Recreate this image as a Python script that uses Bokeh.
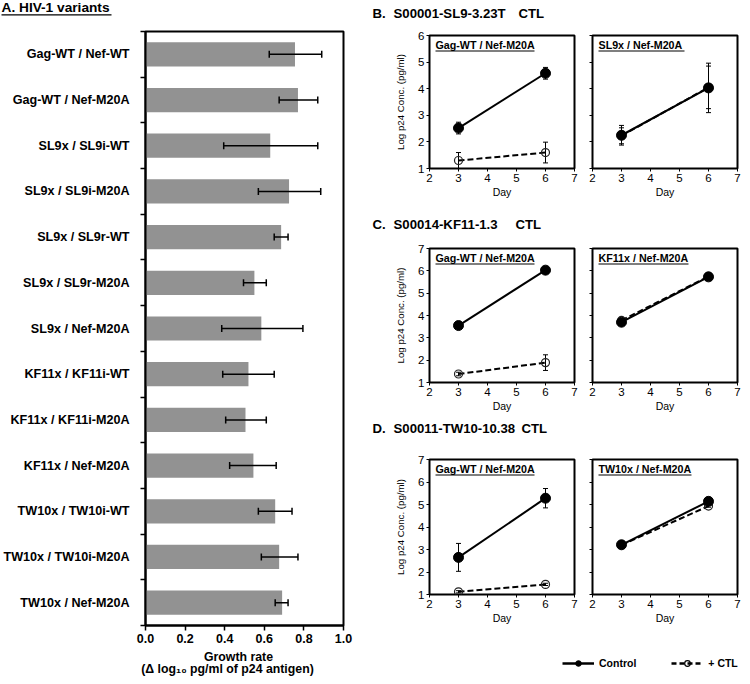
from bokeh.plotting import figure
from bokeh.layouts import row, column
from bokeh.models import (Range1d, FixedTicker, NumeralTickFormatter, Whisker, TeeHead,
                          ColumnDataSource, Legend, LegendItem)
from bokeh.core.properties import value
from bokeh.embed import file_html
from bokeh.resources import INLINE

FONT = "Liberation Sans"

# ---------------- Panel A data ----------------
variants = ["Gag-WT / Nef-WT", "Gag-WT / Nef-M20A", "SL9x / SL9i-WT", "SL9x / SL9i-M20A",
            "SL9x / SL9r-WT", "SL9x / SL9r-M20A", "SL9x / Nef-M20A", "KF11x / KF11i-WT",
            "KF11x / KF11i-M20A", "KF11x / Nef-M20A", "TW10x / TW10i-WT", "TW10x / TW10i-M20A",
            "TW10x / Nef-M20A"]
growth_rate = [0.755, 0.77, 0.63, 0.725, 0.685, 0.55, 0.585, 0.52, 0.505, 0.545, 0.655, 0.675, 0.69]
growth_low = [0.625, 0.675, 0.395, 0.57, 0.65, 0.495, 0.385, 0.39, 0.405, 0.425, 0.57, 0.585, 0.655]
growth_high = [0.89, 0.87, 0.87, 0.885, 0.72, 0.61, 0.795, 0.65, 0.61, 0.66, 0.74, 0.77, 0.72]
rate_ticks = [0.0, 0.2, 0.4, 0.6, 0.8, 1.0]

# ---------------- Panels B-D data ----------------
days = [3, 6]
day_ticks = [2, 3, 4, 5, 6, 7]

panel_titles = [("B.", "S00001-SL9-3.23T", "CTL"),
                ("C.", "S00014-KF11-1.3", "CTL"),
                ("D.", "S00011-TW10-10.38", "CTL")]
inset_labels = [("Gag-WT / Nef-M20A", "SL9x / Nef-M20A"),
                ("Gag-WT / Nef-M20A", "KF11x / Nef-M20A"),
                ("Gag-WT / Nef-M20A", "TW10x / Nef-M20A")]
y_max = [6, 7, 7]

b_gag_control = [2.52, 4.58]
b_gag_control_err = [0.22, 0.22]
b_gag_ctl = [1.30, 1.60]
b_gag_ctl_err = [0.30, 0.39]
b_sl9_control = [2.25, 4.03]
b_sl9_control_err = [0.37, 0.93]
b_sl9_ctl = [2.23, 4.05]
b_sl9_ctl_err = [0.30, 0.80]

c_gag_control = [3.55, 6.03]
c_gag_control_err = [0.10, 0.05]
c_gag_ctl = [1.38, 1.89]
c_gag_ctl_err = [0.08, 0.35]
c_kf11_control = [3.70, 5.73]
c_kf11_control_err = [0.05, 0.06]
c_kf11_ctl = [3.78, 5.75]
c_kf11_ctl_err = [0.05, 0.05]

d_gag_control = [2.65, 5.28]
d_gag_control_err = [0.62, 0.43]
d_gag_ctl = [1.12, 1.45]
d_gag_ctl_err = [0.05, 0.05]
d_tw10_control = [3.21, 5.14]
d_tw10_control_err = [0.05, 0.10]
d_tw10_ctl = [3.20, 4.93]
d_tw10_ctl_err = [0.05, 0.05]


def text_fig(w, h):
    f = figure(width=w, height=h, x_range=Range1d(0, w), y_range=Range1d(h, 0),
               toolbar_location=None, output_backend="svg",
               x_axis_location=None, y_axis_location=None,
               min_border=0, outline_line_color=None, frame_align=False)
    f.grid.visible = False
    return f


def put_text(f, x, y, s, size, bold=True, align="left"):
    f.text(x=[x], y=[y], text=[s], text_font=value(FONT), text_font_size=value(size),
           text_font_style=value("bold" if bold else "normal"), text_align=align,
           text_baseline="middle", text_color="black")


# ---------------- Panel A ----------------
tA = text_fig(368, 26)
put_text(tA, 1, 6.5, "A. HIV-1 variants", "13.7px")
tA.segment(x0=[1], y0=[14.3], x1=[111], y1=[14.3], line_color="black", line_width=1.3)

n = len(variants)
pa = figure(width=368, height=625, x_range=Range1d(0, 1), y_range=Range1d(n - 0.5, -0.5),
            toolbar_location=None, output_backend="svg", frame_align=False,
            min_border_left=141, min_border_right=25, min_border_top=5, min_border_bottom=26,
            outline_line_color="black", outline_line_width=2)
pa.grid.visible = False
srcA = ColumnDataSource(dict(pos=list(range(n)), rate=growth_rate, low=growth_low, high=growth_high))
pa.hbar(y="pos", left=0, right="rate", height=0.53, source=srcA, fill_color="#929292", line_color=None)
pa.add_layout(Whisker(source=srcA, base="pos", lower="low", upper="high", dimension="width",
                      line_color="black", line_width=1.5, level="glyph",
                      lower_head=TeeHead(size=7, line_width=1.5, line_color="black"),
                      upper_head=TeeHead(size=7, line_width=1.5, line_color="black")))
pa.yaxis.ticker = FixedTicker(ticks=list(range(n)), minor_ticks=[i - 0.5 for i in range(n + 1)])
pa.yaxis.major_label_overrides = {i: name for i, name in enumerate(variants)}
pa.yaxis.major_tick_out = 0
pa.yaxis.major_tick_in = 0
pa.yaxis.minor_tick_out = 5
pa.yaxis.minor_tick_in = 0
pa.yaxis.minor_tick_line_color = "black"
pa.yaxis.minor_tick_line_width = 1.5
pa.yaxis.major_label_standoff = 11
pa.yaxis.major_label_text_font_size = "12.6px"
pa.xaxis.ticker = FixedTicker(ticks=rate_ticks)
pa.xaxis.formatter = NumeralTickFormatter(format="0.0")
pa.xaxis.major_tick_out = 5
pa.xaxis.major_tick_in = 0
pa.xaxis.minor_tick_out = 0
pa.xaxis.major_tick_line_color = "black"
pa.xaxis.major_tick_line_width = 1.5
pa.xaxis.major_label_standoff = 3
pa.xaxis.major_label_text_font_size = "12.5px"
for ax in pa.axis:
    ax.axis_line_color = "black"
    ax.axis_line_width = 2
    ax.major_label_text_font = FONT
    ax.major_label_text_font_style = "bold"
    ax.major_label_text_color = "black"

xA = text_fig(368, 25)
put_text(xA, 238, 5, "Growth rate", "12.3px", align="center")
put_text(xA, 227, 17, "(\u0394 log\u2081\u2080 pg/ml of p24 antigen)", "12.3px", align="center")

colA = column(tA, pa, xA, spacing=0)


# ---------------- Panels B-D ----------------
def line_panel(left, ymax, fh, bt, bb, label, ul_px, control, control_err, ctl, ctl_err):
    if left:
        w, bl, br = 215, 61, 9
    else:
        w, bl, br = 159, 9, 5
    fw = w - bl - br
    p = figure(width=w, height=bt + fh + bb, x_range=Range1d(2, 7), y_range=Range1d(1, ymax),
               toolbar_location=None, output_backend="svg", frame_align=False,
               min_border_left=bl, min_border_right=br, min_border_top=bt, min_border_bottom=bb,
               outline_line_color="black", outline_line_width=2)
    p.grid.visible = False

    # + CTL series
    p.line(days, ctl, line_color="black", line_width=2, line_dash="6 3")
    s_ctl = ColumnDataSource(dict(x=days, lo=[v - e for v, e in zip(ctl, ctl_err)],
                                  hi=[v + e for v, e in zip(ctl, ctl_err)]))
    p.add_layout(Whisker(source=s_ctl, base="x", lower="lo", upper="hi", dimension="height",
                         line_color="black", line_width=1,
                         lower_head=TeeHead(size=5, line_width=1, line_color="black"),
                         upper_head=TeeHead(size=5, line_width=1, line_color="black")))
    p.scatter(days, ctl, marker="circle", size=8, fill_color=None, line_color="#222222", line_width=1.2)

    # Control series
    p.line(days, control, line_color="black", line_width=2)
    s_c = ColumnDataSource(dict(x=days, lo=[v - e for v, e in zip(control, control_err)],
                                hi=[v + e for v, e in zip(control, control_err)]))
    p.add_layout(Whisker(source=s_c, base="x", lower="lo", upper="hi", dimension="height",
                         line_color="black", line_width=1,
                         lower_head=TeeHead(size=5, line_width=1, line_color="black"),
                         upper_head=TeeHead(size=5, line_width=1, line_color="black")))
    p.scatter(days, control, marker="circle", size=10, fill_color="black", line_color="black")

    # inset label with underline
    x_t = 2 + 6 * 5 / fw
    y_t = ymax - 9 * (ymax - 1) / fh
    y_u = ymax - 15.5 * (ymax - 1) / fh
    p.text(x=[x_t], y=[y_t], text=[label], text_font=value(FONT), text_font_size=value("10.7px"),
           text_font_style=value("bold"), text_baseline="middle", text_align="left", text_color="black")
    p.segment(x0=[x_t], y0=[y_u], x1=[x_t + ul_px * 5 / fw], y1=[y_u], line_color="black", line_width=1.2)

    p.xaxis.ticker = FixedTicker(ticks=day_ticks)
    if left:
        p.yaxis.ticker = FixedTicker(ticks=list(range(1, ymax + 1)))
    else:
        p.yaxis.ticker = FixedTicker(ticks=[], minor_ticks=list(range(1, ymax + 1)))
    for ax in p.axis:
        ax.axis_line_color = None
        ax.major_tick_out = 3
        ax.major_tick_in = 0
        ax.minor_tick_out = 0
        ax.minor_tick_in = 0
        ax.major_tick_line_color = "black"
        ax.major_tick_line_width = 1
        ax.minor_tick_line_color = "black"
        ax.minor_tick_line_width = 1
        ax.major_label_text_font = FONT
        ax.major_label_text_font_size = "11.5px"
        ax.major_label_text_color = "black"
    p.xaxis.major_label_standoff = 2
    p.xaxis.axis_label = "Day"
    p.xaxis.axis_label_standoff = 1
    p.xaxis.axis_label_text_font = FONT
    p.xaxis.axis_label_text_font_size = "10.5px"
    p.xaxis.axis_label_text_font_style = "normal"
    p.xaxis.axis_label_text_color = "black"
    p.yaxis.major_label_standoff = 2
    if left:
        p.yaxis.axis_label = "Log p24 Conc. (pg/ml)"
        p.yaxis.axis_label_standoff = 9
        p.yaxis.axis_label_text_font = FONT
        p.yaxis.axis_label_text_font_size = "9.7px"
        p.yaxis.axis_label_text_font_style = "normal"
        p.yaxis.axis_label_text_color = "black"
    else:
        p.yaxis.minor_tick_out = 3
    return p


def title_fig(h, yc, parts, x_ctl):
    f = text_fig(374, h)
    put_text(f, 4, yc, parts[0], "13.2px")
    put_text(f, 25, yc, parts[1], "13.2px")
    put_text(f, x_ctl, yc, parts[2], "13.2px")
    return f


tB = title_fig(26, 13, panel_titles[0], 150)
b1 = line_panel(True, y_max[0], 133, 9, 36, inset_labels[0][0], 99,
                b_gag_control, b_gag_control_err, b_gag_ctl, b_gag_ctl_err)
b2 = line_panel(False, y_max[0], 133, 9, 36, inset_labels[0][1], 86,
                b_sl9_control, b_sl9_control_err, b_sl9_ctl, b_sl9_ctl_err)

tC = title_fig(32, 20, panel_titles[1], 147)
c1 = line_panel(True, y_max[1], 134, 12, 36, inset_labels[1][0], 99,
                c_gag_control, c_gag_control_err, c_gag_ctl, c_gag_ctl_err)
c2 = line_panel(False, y_max[1], 134, 12, 36, inset_labels[1][1], 90,
                c_kf11_control, c_kf11_control_err, c_kf11_ctl, c_kf11_ctl_err)

tD = title_fig(28, 10, panel_titles[2], 153)
d1 = line_panel(True, y_max[2], 135, 13, 36, inset_labels[2][0], 99,
                d_gag_control, d_gag_control_err, d_gag_ctl, d_gag_ctl_err)
d2 = line_panel(False, y_max[2], 135, 13, 36, inset_labels[2][1], 93,
                d_tw10_control, d_tw10_control_err, d_tw10_ctl, d_tw10_ctl_err)

# legend (key renderers sit outside the visible range; only their legend glyphs show)
lf = text_fig(374, 46)
off = [-1000, -999]
r1 = lf.line(x=off, y=off, line_color="black", line_width=2.5)
r2 = lf.scatter(x=off, y=off, marker="circle", size=10, fill_color="black", line_color="black")
r3 = lf.line(x=off, y=off, line_color="black", line_width=2.5, line_dash="5 3")
r4 = lf.scatter(x=off, y=off, marker="circle", size=9, fill_color=None, line_color="black", line_width=1.2)
legend = Legend(items=[LegendItem(label="Control", renderers=[r1, r2]),
                       LegendItem(label="+ CTL", renderers=[r3, r4])],
                orientation="horizontal", location=(194, 6), padding=0, margin=0, spacing=35,
                glyph_width=32, glyph_height=14, label_height=14, label_standoff=5,
                border_line_color=None, background_fill_alpha=0,
                label_text_font=FONT, label_text_font_size="10.5px",
                label_text_font_style="bold", label_text_color="black")
lf.add_layout(legend, "center")

colR = column(tB, row(b1, b2, spacing=0), tC, row(c1, c2, spacing=0),
              tD, row(d1, d2, spacing=0), lf, spacing=0)

layout = row(colA, colR, spacing=0)

open("out.html", "w").write(file_html(layout, INLINE))
